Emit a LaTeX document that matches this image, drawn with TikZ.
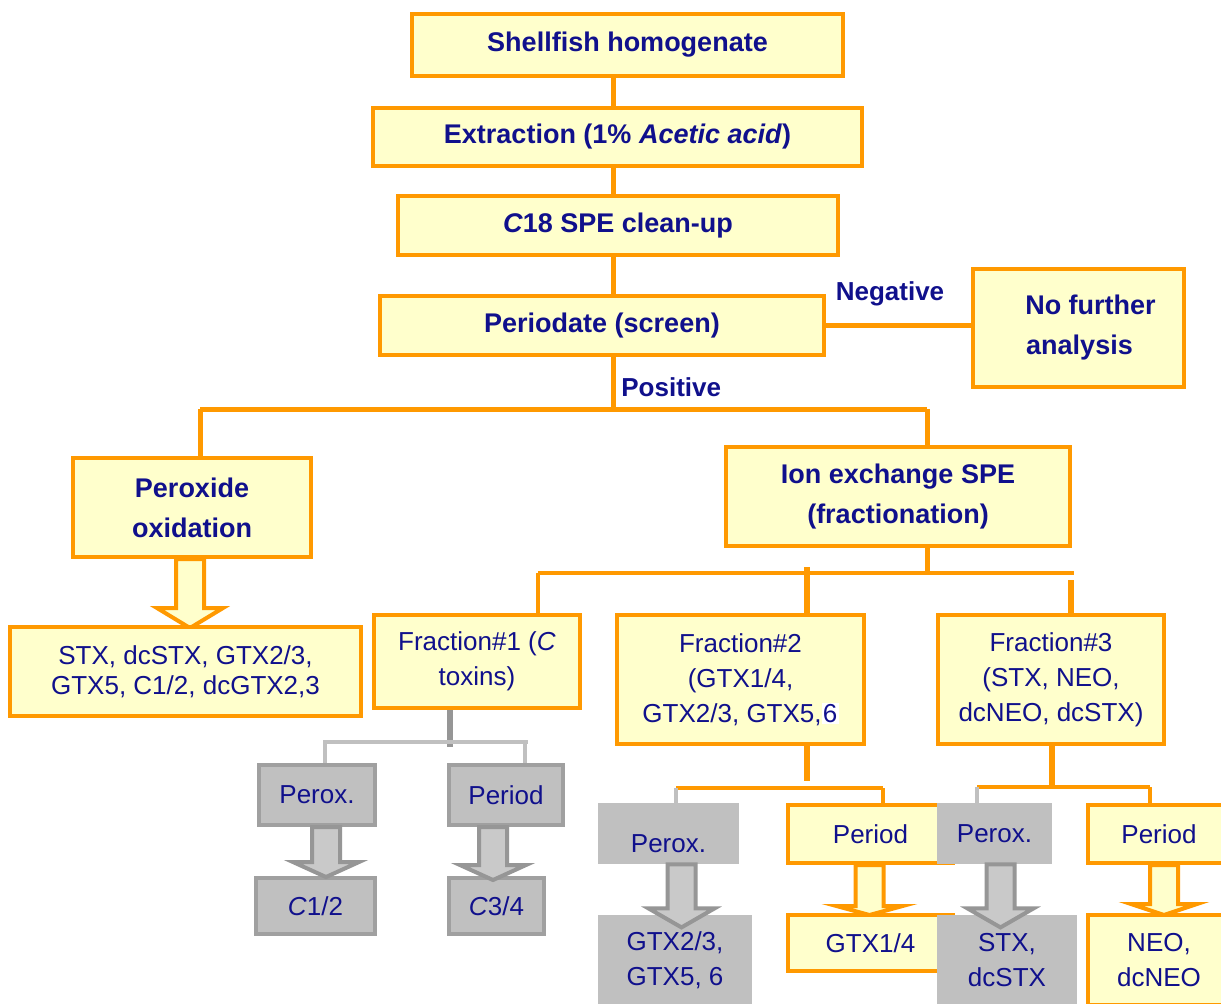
\documentclass[tikz,border=0pt]{standalone}
\usepackage{fontspec}
\setmainfont{Liberation Sans}
\usetikzlibrary{calc}
\definecolor{org}{RGB}{255,153,0}
\definecolor{lyel}{RGB}{255,255,204}
\definecolor{navy}{RGB}{16,16,140}
\definecolor{gfill}{RGB}{192,192,192}
\definecolor{gline}{RGB}{160,160,160}
\definecolor{glight}{RGB}{192,192,192}
\definecolor{gdark}{RGB}{150,150,150}
% style, anchor, x offset, length, head length
\newcommand\harrow[5]{%
  \draw[#1] ($(#2)+(#3-14,0)$) -- ($(#2)+(#3-14,#4-#5)$) -- ($(#2)+(#3-33,#4-#5)$)
    -- ($(#2)+(#3,#4)$) -- ($(#2)+(#3+33,#4-#5)$) -- ($(#2)+(#3+14,#4-#5)$)
    -- ($(#2)+(#3+14,0)$) -- cycle;}
\begin{document}
\begin{tikzpicture}[x=0.5pt,y=-0.5pt,
  base/.style={text=navy,align=center,inner sep=0pt},
  obox/.style={base,draw=org,line width=2pt,fill=lyel,font=\fontsize{13.5}{20}\selectfont\bfseries},
  sbox/.style={base,draw=org,line width=2pt,fill=lyel,font=\fontsize{13}{17.5}\selectfont},
  gbox/.style={base,draw=gline,line width=2pt,fill=gfill,font=\fontsize{13}{17.5}\selectfont},
  nbox/.style={base,fill=gfill,font=\fontsize{13}{17.5}\selectfont},
  lbl/.style={text=navy,inner sep=0pt,font=\fontsize{13}{16}\selectfont\bfseries},
  conn/.style={draw=org,line width=2.5pt},
  thinconn/.style={draw=org,line width=1.6pt},
  thickconn/.style={draw=org,line width=3.2pt},
  gthick/.style={draw=gdark,line width=3.2pt},
  gthin/.style={draw=glight,line width=1.8pt},
  oarrow/.style={draw=org,line width=2pt,fill=lyel,line join=miter},
  garrow/.style={draw=gdark,line width=2pt,fill=gfill!85!white,line join=miter}]
\clip (0,0) rectangle (1221,1003);
\fill[white] (0,0) rectangle (1221,1003);

% coordinates
\coordinate (spine) at (613,0);
\coordinate (bus1) at (613,409);
\coordinate (bl) at (200,409);
\coordinate (br) at (927,409);
\coordinate (bus2) at (927,573);
\coordinate (b2l) at (538,573);
\coordinate (b2r) at (1074,573);
\coordinate (s2) at (807,567);
\coordinate (s3) at (1071,580);
\coordinate (g1) at (450,747);
\coordinate (g1l) at (323,742);
\coordinate (g1r) at (528,742);
\coordinate (g1a) at (325,742);
\coordinate (g1b) at (525,742);
\coordinate (o2) at (807,781);
\coordinate (o2l) at (676,788);
\coordinate (o2r) at (883,788);
\coordinate (o3) at (1052,787);
\coordinate (o3l) at (977,787);
\coordinate (o3r) at (1150,787);

% top chain
\node[obox,minimum width=215.5pt,minimum height=31pt] (sh) at (627.5,45) {Shellfish homogenate};
\node[obox,minimum width=244.5pt,minimum height=29pt] (ex) at (617.5,137) {Extraction (1\% \textit{Acetic acid})};
\node[obox,minimum width=220pt,minimum height=29.5pt] (c18) at (618,225.5) {\textit{C}18 SPE clean-up};
\node[obox,minimum width=222pt,minimum height=29.5pt] (per) at (602,325.5) {Periodate (screen)};
\node[obox,minimum width=105.5pt,minimum height=59pt] (nfa) at (1078.5,328) {\hspace*{12pt}No further\\\hspace*{1pt}analysis};
\node[obox,minimum width=119pt,minimum height=49.5pt] (pox) at (192,507.5) {Peroxide\\oxidation};
\node[obox,minimum width=172pt,minimum height=49.5pt] (ion) at (898,496.5) {Ion exchange SPE\\(fractionation)};

\draw[conn] (sh.south -| spine) -- (ex.north -| spine);
\draw[conn] (ex.south -| spine) -- (c18.north -| spine);
\draw[conn] (c18.south -| spine) -- (per.north -| spine);
\draw[conn] (per.east) -- (per.east -| nfa.west);
\node[lbl] (neg) at (890,294) {Negative};
\draw[conn] (per.south -| spine) -- (bus1);
\draw[conn] (bl) -- (br);
\draw[conn] (bl) -- (bl |- pox.north);
\draw[conn] (br) -- (br |- ion.north);
\node[lbl,anchor=west] (pos) at (621,387) {Positive};

\harrow{oarrow}{pox.south}{-2}{69}{20}
\node[sbox,minimum width=175.5pt,minimum height=44.5pt,font=\fontsize{13}{15}\selectfont] (res) at (185.5,671.5) {STX, dcSTX, GTX2/3,\\GTX5, C1/2, dcGTX2,3};

% fractions
\node[sbox,minimum width=103pt,minimum height=46.5pt] (f1) at (477,661.5) {Fraction\#1 (\textit{C}\\toxins)};
\node[sbox,minimum width=123.5pt,minimum height=64.5pt] (f2) at (740.5,679.5) {Fraction\#2\\(GTX1/4,\\GTX2/3, GTX5,{\setlength\fboxsep{0.6pt}\colorbox{white}{6}}};
\node[sbox,minimum width=113pt,minimum height=64.5pt] (f3) at (1051,679.5) {Fraction\#3\\(STX, NEO,\\dcNEO, dcSTX)};

\draw[conn] (ion.south -| bus2) -- (bus2);
\draw[thinconn] (b2l) -- (b2r);
\draw[thinconn] (b2l) -- (b2l |- f1.north);
\draw[thickconn] (s2) -- (s2 |- f2.north);
\draw[thickconn] (s3) -- (s3 |- f3.north);

% branch 1 (gray)
\node[gbox,minimum width=58pt,minimum height=30pt] (p1) at (317,795) {Perox.};
\node[gbox,minimum width=57pt,minimum height=30pt] (q1) at (506,795) {Period};
\node[gbox,minimum width=59.5pt,minimum height=28pt] (r1) at (315.5,906) {\textit{C}1/2};
\node[gbox,minimum width=47.5pt,minimum height=28pt] (t1) at (496.5,906) {\textit{C}3/4};
\draw[gthick] (f1.south -| g1) -- (g1);
\draw[gthin] (g1l) -- (g1r);
\draw[gthin] (g1a) -- (g1a |- p1.north);
\draw[gthin] (g1b) -- (g1b |- q1.north);
\harrow{garrow}{p1.south}{9}{50}{15}
\harrow{garrow}{q1.south}{-13}{53}{15}

% branch 2
\node[nbox,minimum width=70.5pt,minimum height=30.5pt,text height=19pt,text depth=0pt] (p2) at (668.5,833.5) {Perox.};
\node[sbox,minimum width=82.5pt,minimum height=29pt] (q2) at (870.5,834) {Period};
\harrow{oarrow}{q2.south}{-1}{50}{9}
\node[nbox,minimum width=77pt,minimum height=45pt] (r2) at (675,960) {GTX2/3,\\GTX5, 6};
\node[sbox,minimum width=82.5pt,minimum height=28pt] (t2) at (870.5,943) {GTX1/4};
\draw[thickconn] (f2.south -| o2) -- (o2);
\draw[thinconn] (o2l) -- (o2r);
\draw[gthin] (o2l) -- (o2l |- p2.north);
\draw[thinconn] (o2r) -- (o2r |- q2.north);
\harrow{garrow}{p2.south}{13}{63}{19}

% branch 3
\node[nbox,minimum width=57.5pt,minimum height=30.5pt] (p3) at (994.5,833.5) {Perox.};
\node[sbox,minimum width=71pt,minimum height=29pt] (q3) at (1159,834) {Period};
\harrow{oarrow}{q3.south}{5}{50}{11}
\node[nbox,minimum width=70pt,minimum height=45pt] (r3) at (1007,960) {STX,\\dcSTX};
\node[sbox,minimum width=71pt,minimum height=45pt] (t3) at (1159,960) {NEO,\\dcNEO};
\draw[thickconn] (f3.south -| o3) -- (o3);
\draw[thinconn] (o3l) -- (o3r);
\draw[gthin] (o3l) -- (o3l |- p3.north);
\draw[thinconn] (o3r) -- (o3r |- q3.north);
\harrow{garrow}{p3.south}{6}{63}{19}
\end{tikzpicture}
\end{document}
